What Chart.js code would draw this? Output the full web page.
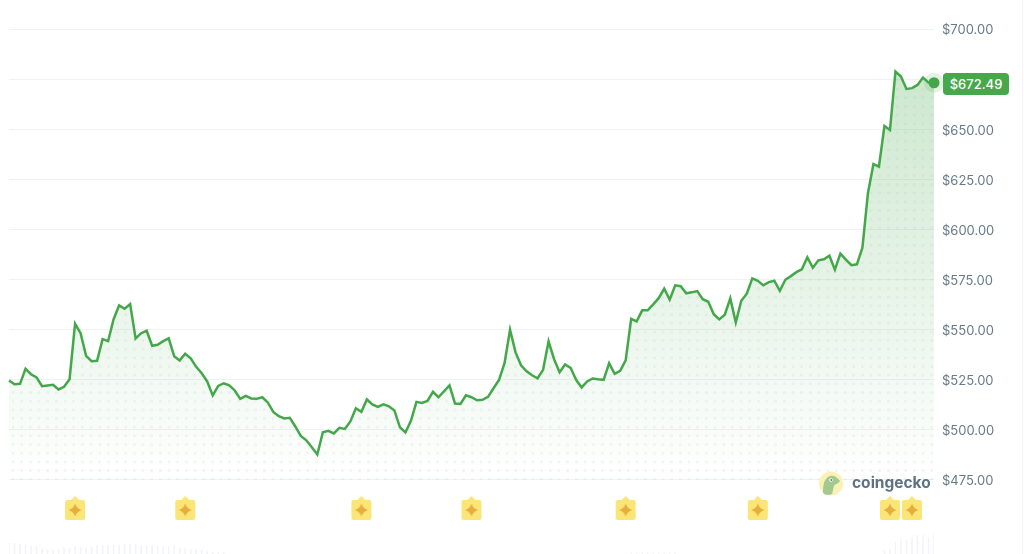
<!DOCTYPE html>
<html>
<head>
<meta charset="utf-8">
<title>Price chart</title>
<script src="https://cdn.jsdelivr.net/npm/chart.js@4"></script>
<style>
    html, body { margin: 0; padding: 0; background: #fff; overflow: hidden; }
    #wrap { position: relative; width: 1024px; height: 554px; font-family: Inter, sans-serif; }
    #chart { display: block; }
    #badge {
        position: absolute; left: 943px; top: 73px; width: 66px; height: 22px;
        line-height: 22px; text-align: center; background: #46a84b; color: #fff;
        font-size: 13px; font-weight: 500; border-radius: 4px;
    }
    #logo { position: absolute; left: 819px; top: 471px; width: 115px; height: 25px; }
    #logo svg { position: absolute; left: 0; top: 0; }
    #logo span {
        position: absolute; left: 33px; top: 1px; line-height: 22px;
        font-size: 15.5px; font-weight: 700; color: #5f7282;
    }
    #edge { position: absolute; left: 1022px; top: 0; width: 1px; height: 554px; background: #f6f6fa; }
</style>
</head>
<body>
<div id="wrap">
    <canvas id="chart" width="1024" height="554"></canvas>
    <div id="badge"></div>
    <div id="logo">
        <svg width="25" height="25" viewBox="0 0 25 25">
            <circle cx="12" cy="12.5" r="12" fill="#fbf1b4"/>
            <path d="M4 22 C4 14 5 7 11 5 C15 4 18 6 21 10 C19 13 16 13 15 15 C14 18 14 20 13 23 C9 24.500 6 24 4 22 Z" fill="#a3c98f"/>
            <circle cx="12" cy="9" r="1.800" fill="#fff"/>
            <circle cx="12.300" cy="9" r="0.900" fill="#5f7282"/>
        </svg>
        <span>coingecko</span>
    </div>
    <div id="edge"></div>
</div>
<script>
const currentPrice = 672.49;

const priceTicks = [475, 500, 525, 550, 575, 600, 625, 650, 675, 700];

const prices = [
    524.7, 522.8, 523, 530.5, 527.8, 526.2, 521.8, 522.2, 522.5, 520.2,
    521.5, 525.3, 553, 548.3, 537, 534.3, 534.5, 545.3, 544.3, 555.3,
    562.2, 560.5, 562.8, 545.7, 548.3, 549.5, 542, 542.5, 544.3, 545.7,
    536.8, 534.7, 538, 535.7, 531.5, 528.3, 524.2, 517.2, 522, 523.3,
    522.3, 519.7, 515.5, 517, 515.7, 515.5, 516.3, 513.7, 509, 506.8,
    505.7, 506, 501.7, 497, 494.8, 491.3, 487.7, 498.8, 499.5, 498.2,
    501, 500.5, 504.2, 510.8, 509, 515.2, 512.7, 511.5, 512.8, 511.8,
    509.7, 501.3, 498.7, 504.5, 514, 513.5, 514.5, 519, 516.3, 519.2,
    522.2, 513.2, 513, 517.3, 516.3, 514.8, 515, 516.5, 520.8, 525,
    533.3, 550, 538.7, 532.3, 529.3, 527.3, 525.8, 530, 544.2, 535.3,
    528.8, 532.7, 531, 525, 521.2, 524.2, 525.7, 525.3, 525, 533.3,
    528, 529.5, 534.7, 555.5, 554.2, 559.7, 559.7, 562.7, 565.8, 570.5,
    565, 572.2, 571.8, 568.2, 568.7, 569.3, 565.3, 564, 557.8, 555.2,
    557.5, 565.7, 553.7, 564.5, 568, 575.7, 574.5, 572.2, 573.8, 574.5,
    569.5, 575, 576.8, 578.8, 580.2, 586.2, 581, 584.7, 585.2, 587,
    580, 588, 585, 582.3, 582.7, 591, 618.2, 632.8, 631.5, 651.8,
    649.8, 679, 676.5, 670.3, 670.7, 672.3, 676, 673.5, 673.4
];

// hours with a news marker under the line
const eventHours = [12, 32, 64, 84, 112, 136, 160, 164];
const eventLevel = 461;

// volume strip at the very bottom, only these hours are visible
const volumeHours = [
    0, 1, 2, 3, 4, 5, 6, 7, 8, 9,
    10, 11, 12, 13, 14, 15, 16, 17, 18, 19,
    20, 21, 22, 23, 24, 25, 26, 27, 28, 29,
    30, 31, 32, 33, 34, 35, 36, 37, 38, 39,
    113, 114, 115, 116, 117, 118, 119, 120, 121,
    159, 160, 161, 162, 163, 164, 165, 166, 167, 168
];
const volumeValues = [
    11, 10.7, 9.7, 9, 8, 7.3, 5, 4, 4, 4.7,
    6.7, 5.7, 7.3, 6.7, 6, 7.3, 8.7, 8.7, 8.7, 8.7,
    9, 9.3, 10, 9.3, 8.3, 8.3, 8, 8, 7.3, 7.7,
    8.7, 5.7, 5.3, 4.7, 4.3, 4, 2.3, 2, 1.3, 1,
    1, 1, 1, 1, 1, 1, 1, 1, 1,
    4, 4.7, 12, 14, 14, 16, 18.7, 18.7, 16, 20
];

const green = '#44a74a';

document.getElementById('badge').textContent = '$' + currentPrice.toFixed(2);

function makeDotPattern(ctx) {
    const tile = document.createElement('canvas');
    tile.width = 26;
    tile.height = 26;
    const t = tile.getContext('2d');
    t.fillStyle = 'rgba(120, 165, 130, 0.09)';
    t.beginPath();
    t.arc(13, 13, 4.5, 0, Math.PI * 2);
    t.fill();
    const pattern = ctx.createPattern(tile, 'repeat');
    pattern.setTransform(new DOMMatrix().translate(0, -1.83).scale(1 / 3));
    return pattern;
}

function makeEventIcon() {
    const icon = document.createElement('canvas');
    icon.width = 22;
    icon.height = 26;
    const c = icon.getContext('2d');
    c.fillStyle = '#fbe577';
    c.beginPath();
    c.moveTo(11, 1);
    c.lineTo(15, 5);
    c.lineTo(19, 5);
    c.quadraticCurveTo(21, 5, 21, 7);
    c.lineTo(21, 23);
    c.quadraticCurveTo(21, 25, 19, 25);
    c.lineTo(3, 25);
    c.quadraticCurveTo(1, 25, 1, 23);
    c.lineTo(1, 7);
    c.quadraticCurveTo(1, 5, 3, 5);
    c.lineTo(7, 5);
    c.closePath();
    c.fill();
    c.fillStyle = '#e6ae3c';
    c.beginPath();
    c.moveTo(11, 8.5);
    c.quadraticCurveTo(12.5, 13.5, 17.5, 15);
    c.quadraticCurveTo(12.5, 16.5, 11, 21.5);
    c.quadraticCurveTo(9.5, 16.5, 4.5, 15);
    c.quadraticCurveTo(9.5, 13.5, 11, 8.5);
    c.fill();
    return icon;
}

function fillGradient(context) {
    const chart = context.chart;
    if (!chart.chartArea) return 'transparent';
    const y = chart.scales.y;
    const g = chart.ctx.createLinearGradient(0, y.getPixelForValue(679), 0, y.getPixelForValue(475));
    g.addColorStop(0, 'rgba(68, 167, 74, 0.27)');
    g.addColorStop(1, 'rgba(68, 167, 74, 0)');
    return g;
}

const ctx = document.getElementById('chart').getContext('2d');
const pricePoints = prices.map((p, i) => ({ x: i, y: p }));
const lastHour = prices.length - 1;

new Chart(ctx, {
    type: 'line',
    data: {
        datasets: [
            {
                // dotted texture under the line
                data: pricePoints,
                borderWidth: 0,
                pointRadius: 0,
                fill: { value: 475 },
                backgroundColor: makeDotPattern(ctx)
            },
            {
                data: pricePoints,
                borderColor: green,
                borderWidth: 2.5,
                borderJoinStyle: 'miter',
                tension: 0,
                clip: false,
                pointRadius: c => (c.dataIndex === lastHour ? 5.5 : 0),
                pointBackgroundColor: green,
                pointBorderWidth: 0,
                fill: { value: 475 },
                backgroundColor: fillGradient
            },
            {
                // halo round the last price
                data: [{ x: lastHour, y: prices[lastHour] }],
                showLine: false,
                clip: false,
                pointRadius: 10,
                pointBorderWidth: 0,
                pointBackgroundColor: 'rgba(68, 167, 74, 0.15)'
            },
            {
                data: eventHours.map(h => ({ x: h, y: eventLevel })),
                showLine: false,
                pointStyle: makeEventIcon(),
                clip: false
            },
            {
                type: 'bar',
                yAxisID: 'yVolume',
                data: volumeHours.map((h, i) => ({ x: h, y: volumeValues[i] })),
                backgroundColor: '#f3f4fa',
                barThickness: 1
            }
        ]
    },
    options: {
        responsive: false,
        animation: false,
        layout: { autoPadding: false, padding: { left: 9, top: 29.5, right: 0, bottom: 0 } },
        plugins: {
            legend: { display: false },
            tooltip: { enabled: false }
        },
        scales: {
            x: {
                type: 'linear',
                display: false,
                offset: false,
                min: 0,
                max: lastHour
            },
            y: {
                position: 'right',
                min: 438,
                max: 700,
                border: { display: false },
                grid: { color: '#eff2f5', lineWidth: 1, drawTicks: false },
                afterBuildTicks: function (scale) {
                    scale.ticks = priceTicks.map(v => ({ value: v }));
                },
                afterFit: function (scale) {
                    scale.width = 90;
                    scale.paddingTop = 0;
                    scale.paddingBottom = 0;
                },
                ticks: {
                    padding: 8,
                    labelOffset: 1,
                    color: '#677a89',
                    font: { family: 'Inter', size: 13 },
                    callback: function (value) {
                        return '$' + value.toFixed(2);
                    }
                }
            },
            yVolume: {
                display: false,
                min: 0,
                max: 524.5
            }
        }
    }
});
</script>
</body>
</html>
